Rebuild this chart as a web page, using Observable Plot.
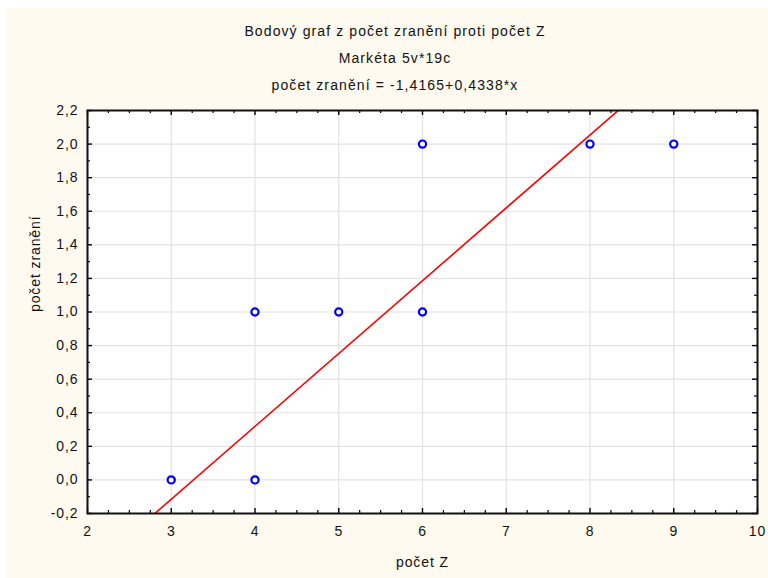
<!DOCTYPE html>
<html>
<head>
<meta charset="utf-8">
<script src="https://cdn.jsdelivr.net/npm/d3@7"></script>
<script src="https://cdn.jsdelivr.net/npm/@observablehq/plot@0.6"></script>
<style>
  html, body { margin: 0; padding: 0; background: #ffffff; }
  #wrap { position: relative; width: 768px; height: 578px; overflow: hidden; font-family: "Liberation Sans", Arial, sans-serif; }
  #cream { position: absolute; left: 7px; top: 8px; right: 0; bottom: 0; background: #fffaef; }
  #titles { position: absolute; left: 0; top: 18px; width: 790px; text-align: center; font-size: 14px; line-height: 27px; color: #111; letter-spacing: 1.1px; }
  #chart { position: absolute; left: 0; top: 100px; }
  #chart svg text { letter-spacing: 0.9px; }
</style>
</head>
<body>
<div id="wrap">
  <div id="cream"></div>
  <div id="titles">
    <div>Bodový graf z počet zranění proti počet Z</div>
    <div>Markéta 5v*19c</div>
    <div>počet zranění = -1,4165+0,4338*x</div>
  </div>
  <div id="chart"></div>
</div>
<script>
// Data
const xValues = [3, 4, 4, 5, 6, 6, 8, 9];
const yValues = [0, 0, 1, 1, 1, 2, 2, 2];
const intercept = -1.4165;
const slope = 0.4338;
const xTicks = [2, 3, 4, 5, 6, 7, 8, 9, 10];
const yTicks = [-0.2, 0, 0.2, 0.4, 0.6, 0.8, 1.0, 1.2, 1.4, 1.6, 1.8, 2.0, 2.2];
const xLabel = "počet Z";
const yLabel = "počet zranění";

const points = xValues.map((x, i) => ({x, y: yValues[i]}));
const fitLine = [2, 10].map(x => ({x, y: intercept + slope * x}));
const xMinor = d3.range(2, 10.001, 0.25).filter(v => Math.abs(v - Math.round(v)) > 1e-6);
const yMinor = d3.range(-0.1, 2.2, 0.2);

const W = 768, H = 478, mL = 87, mR = 11, mT = 10, mB = 65;
const pw = W - mL - mR, ph = H - mT - mB;
const fmt = d => d.toFixed(1).replace(".", ",");

const chart = Plot.plot({
  width: W, height: H,
  marginLeft: mL, marginRight: mR, marginTop: mT, marginBottom: mB,
  style: {background: "transparent", fontFamily: "'Liberation Sans', Arial, sans-serif", fontSize: "14px", color: "#111"},
  x: {domain: [2, 10]},
  y: {domain: [-0.2, 2.2]},
  marks: [
    Plot.frame({fill: "white", stroke: null}),
    Plot.gridX(xTicks, {stroke: "#e2e2e2", strokeOpacity: 1, strokeWidth: 1.2}),
    Plot.gridY(yTicks, {stroke: "#e2e2e2", strokeOpacity: 1, strokeWidth: 1.2}),
    Plot.line(fitLine, {x: "x", y: "y", stroke: "#ff0000", strokeWidth: 1.6, clip: true}),
    Plot.dot(points, {x: "x", y: "y", r: 3.6, stroke: "#0000ff", strokeWidth: 2.2, fill: "white"}),
    // inward ticks: left / right
    Plot.tickY(yTicks, {y: d => d, insetRight: pw - 5, stroke: "#000", strokeWidth: 1.4}),
    Plot.tickY(yMinor, {y: d => d, insetRight: pw - 3, stroke: "#000", strokeWidth: 1.2}),
    Plot.tickY(yTicks, {y: d => d, insetLeft: pw - 5, stroke: "#000", strokeWidth: 1.4}),
    Plot.tickY(yMinor, {y: d => d, insetLeft: pw - 3, stroke: "#000", strokeWidth: 1.2}),
    // inward ticks: bottom / top
    Plot.tickX(xTicks, {x: d => d, insetTop: ph - 5, stroke: "#000", strokeWidth: 1.4}),
    Plot.tickX(xMinor, {x: d => d, insetTop: ph - 3, stroke: "#000", strokeWidth: 1.2}),
    Plot.tickX(xTicks, {x: d => d, insetBottom: ph - 5, stroke: "#000", strokeWidth: 1.4}),
    Plot.tickX(xMinor, {x: d => d, insetBottom: ph - 3, stroke: "#000", strokeWidth: 1.2}),
    Plot.frame({stroke: "#111", strokeWidth: 2}),
    Plot.axisX(xTicks, {tickSize: 0, tickPadding: 13, label: null, fontSize: 14, fill: "#111"}),
    Plot.axisY(yTicks, {tickSize: 0, tickPadding: 9, tickFormat: fmt, label: null, fontSize: 14, fill: "#111"}),
    Plot.text([yLabel], {text: d => d, frameAnchor: "left", dx: -52, rotate: -90, fontSize: 14, fill: "#111"}),
    Plot.text([xLabel], {text: d => d, frameAnchor: "bottom", dy: 53, fontSize: 14, fill: "#111"})
  ]
});
document.getElementById("chart").appendChild(chart);
</script>
</body>
</html>
